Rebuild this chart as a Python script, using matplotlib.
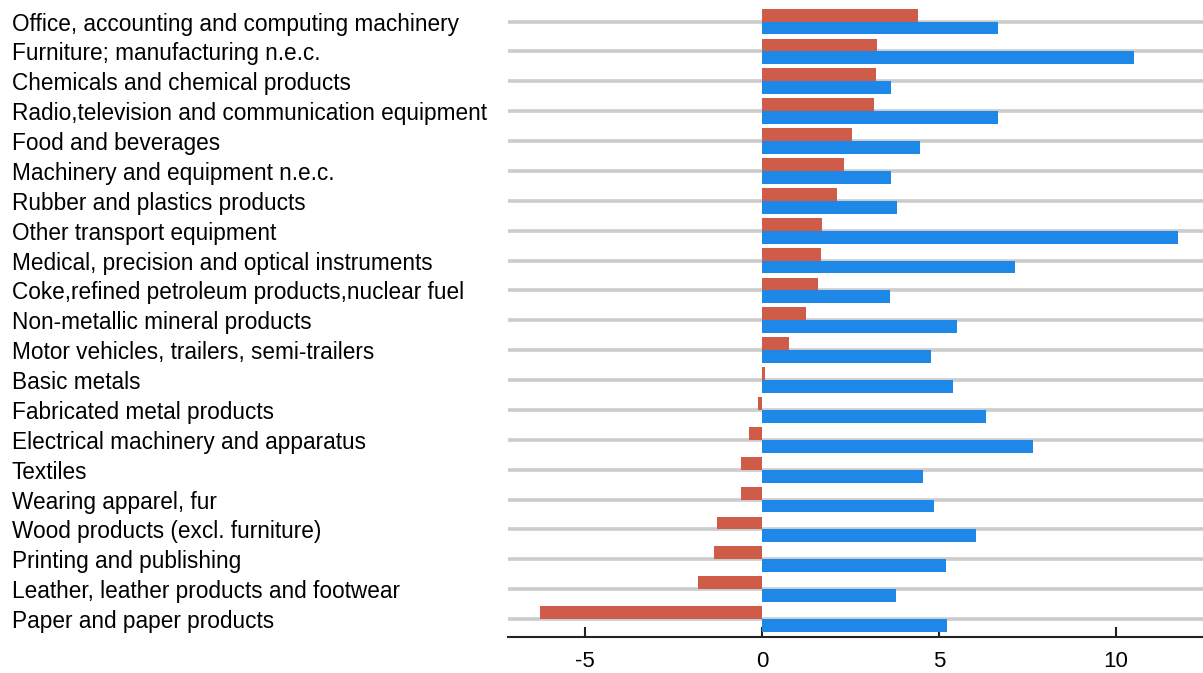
import matplotlib
matplotlib.use('Agg')
import matplotlib.pyplot as plt
import numpy as np

plt.rcParams['font.family'] = ['Liberation Sans', 'DejaVu Sans']

categories = [
    'Office, accounting and computing machinery',
    'Furniture; manufacturing n.e.c.',
    'Chemicals and chemical products',
    'Radio,television and communication equipment',
    'Food and beverages',
    'Machinery and equipment n.e.c.',
    'Rubber and plastics products',
    'Other transport equipment',
    'Medical, precision and optical instruments',
    'Coke,refined petroleum products,nuclear fuel',
    'Non-metallic mineral products',
    'Motor vehicles, trailers, semi-trailers',
    'Basic metals',
    'Fabricated metal products',
    'Electrical machinery and apparatus',
    'Textiles',
    'Wearing apparel, fur',
    'Wood products (excl. furniture)',
    'Printing and publishing',
    'Leather, leather products and footwear',
    'Paper and paper products',
]
red_values = [4.40, 3.24, 3.21, 3.18, 2.56, 2.32, 2.12, 1.70, 1.67, 1.59, 1.26,
              0.76, 0.08, -0.12, -0.36, -0.58, -0.59, -1.28, -1.34, -1.80, -6.26]
blue_values = [6.66, 10.51, 3.64, 6.68, 4.47, 3.65, 3.82, 11.76, 7.15, 3.61, 5.52,
               4.79, 5.39, 6.34, 7.66, 4.55, 4.86, 6.04, 5.20, 3.78, 5.22]
xticks = [-5, 0, 5, 10]

red = '#cf5c48'
blue = '#1e88e8'

fig = plt.figure(figsize=(12.03, 6.73), dpi=100)
ax = fig.add_axes([508 / 1203, 36 / 673, 1 - 508 / 1203, 637 / 673])

y = np.arange(len(categories))
h = 0.43
for yy in y:
    ax.axhline(yy, color='#cccccc', linewidth=2.6, zorder=1)
ax.barh(y - h / 2, red_values, height=h, color=red, zorder=2)
ax.barh(y + h / 2, blue_values, height=h, color=blue, zorder=2)

ax.set_xlim(-7.17, 12.46)
ax.set_ylim(20.6, -0.72)

for s in ['top', 'right', 'left']:
    ax.spines[s].set_visible(False)
ax.spines['bottom'].set_linewidth(1.5)
ax.spines['bottom'].set_color('#222222')

ax.set_xticks(xticks)
ax.set_xticklabels([str(t) for t in xticks])
ax.tick_params(axis='x', direction='in', length=7, width=1.5, color='#222222',
               labelsize=16, pad=10)

ax.set_yticks(y)
ax.set_yticklabels(categories, fontsize=16.3)
ax.tick_params(axis='y', length=0, pad=(508 - 12) * 0.72)
for lbl in ax.get_yticklabels():
    lbl.set_horizontalalignment('left')

fig.savefig('out.png', dpi=100)
